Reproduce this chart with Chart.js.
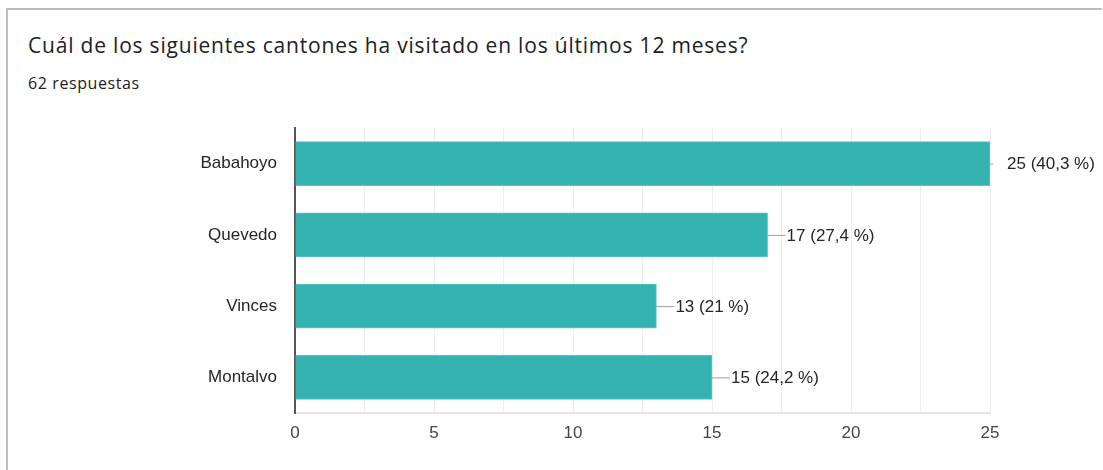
<!DOCTYPE html>
<html>
<head>
<meta charset="utf-8">
<script src="https://cdn.jsdelivr.net/npm/chart.js@4/dist/chart.umd.min.js"></script>
<style>
  html, body { margin: 0; padding: 0; background: #fff; }
  body { width: 1103px; height: 470px; position: relative; overflow: hidden; }
  .card {
    position: absolute; left: 6px; top: 8px; width: 1096px; height: 470px;
    border-left: 2px solid #bdbdbd; border-top: 2px solid #bdbdbd; box-sizing: border-box;
  }
  .title {
    position: absolute; left: 28px; top: 31px; white-space: nowrap;
    font: 21px "Open Sans", Roboto, sans-serif; letter-spacing: 0.8px; color: #202124;
  }
  .count {
    position: absolute; left: 28px; top: 72px; white-space: nowrap;
    font: 16px "Open Sans", Roboto, sans-serif; letter-spacing: 0.6px; color: #202124;
  }
  #barChart { position: absolute; left: 0; top: 0; }
</style>
</head>
<body>
<div class="card"></div>
<div class="title">Cuál de los siguientes cantones ha visitado en los últimos 12 meses?</div>
<div class="count">62 respuestas</div>
<canvas id="barChart" width="1103" height="470"></canvas>
<script>
// Responses per canton
const cantones = ['Babahoyo', 'Quevedo', 'Vinces', 'Montalvo'];
const visitas = [25, 17, 13, 15];
const porcentajes = ['40,3', '27,4', '21', '24,2'];
const xTicks = [0, 5, 10, 15, 20, 25];

const FONT = '"Liberation Sans", Arial, sans-serif';
const TEAL = '#33b2b0';

// Draws the "value (pct %)" labels with a short leader line from the bar end
const valueLabels = {
    id: 'valueLabels',
    afterDatasetsDraw(chart) {
        const { ctx } = chart;
        const meta = chart.getDatasetMeta(0);
        const max = chart.scales.x.max;
        ctx.save();
        ctx.font = '17px ' + FONT;
        ctx.textBaseline = 'middle';
        ctx.fillStyle = '#262626';
        meta.data.forEach((bar, i) => {
            const endX = bar.x;
            const y = bar.y;
            const atMax = visitas[i] >= max;
            ctx.strokeStyle = '#9e9e9e';
            ctx.lineWidth = 1;
            ctx.beginPath();
            ctx.moveTo(endX, y + 0.5);
            ctx.lineTo(atMax ? endX + 3 : endX + 18, y + 0.5);
            ctx.stroke();
            ctx.fillText(visitas[i] + ' (' + porcentajes[i] + ' %)', endX + (atMax ? 17 : 19), y + 1);
        });
        ctx.restore();
    }
};

new Chart(document.getElementById('barChart'), {
    type: 'bar',
    data: {
        labels: cantones,
        datasets: [{
            data: visitas,
            backgroundColor: TEAL,
            borderColor: '#5cc4c2',
            borderWidth: 1,
            barThickness: 44
        }]
    },
    options: {
        indexAxis: 'y',
        responsive: false,
        animation: false,
        layout: { padding: { top: 128, right: 113, left: 0, bottom: 0 } },
        plugins: {
            legend: { display: false },
            tooltip: { enabled: false }
        },
        scales: {
            x: {
                min: 0,
                max: 25,
                ticks: {
                    stepSize: 2.5,
                    autoSkip: false,
                    maxRotation: 0,
                    padding: 10,
                    color: '#444',
                    font: { family: FONT, size: 17 },
                    callback: (v) => xTicks.includes(v) ? String(v) : ''
                },
                grid: { color: '#eeeeee', drawTicks: false },
                border: { color: '#e6e6e6', width: 2 },
                afterFit(scale) { scale.height = 57; }
            },
            y: {
                ticks: {
                    padding: 18,
                    color: '#262626',
                    font: { family: FONT, size: 17 }
                },
                grid: { display: false, drawTicks: false },
                border: { color: '#555', width: 2 },
                afterFit(scale) { scale.width = 295; }
            }
        }
    },
    plugins: [valueLabels]
});
</script>
</body>
</html>
